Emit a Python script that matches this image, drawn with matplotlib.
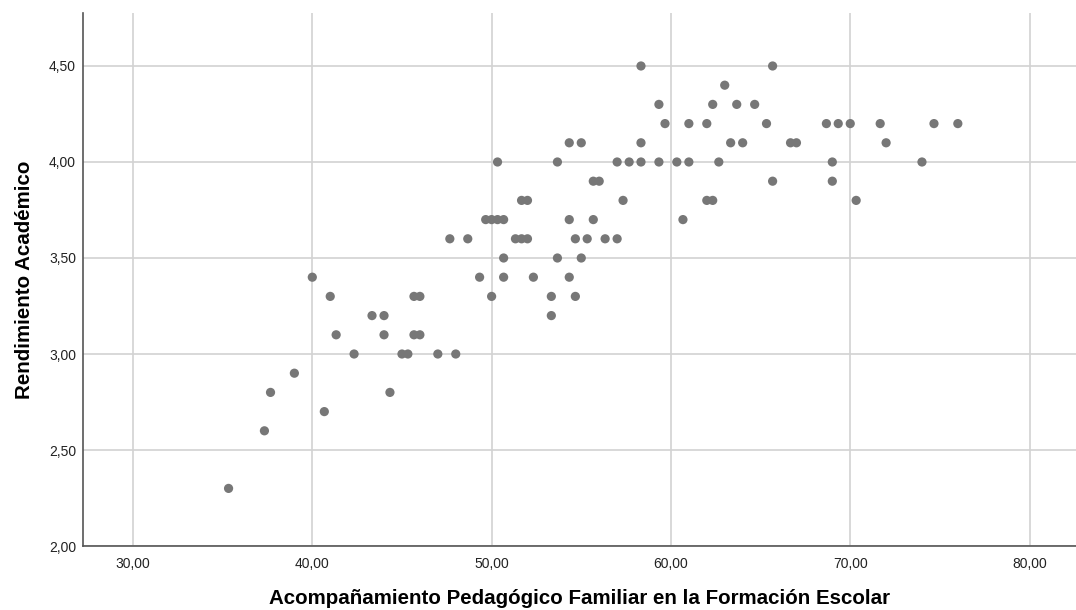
import matplotlib
matplotlib.use("Agg")
import matplotlib.pyplot as plt
from matplotlib.ticker import FuncFormatter

plt.rcParams['font.family'] = ['Liberation Sans', 'DejaVu Sans']

# datos (x = acompanamiento, y = rendimiento)
acomp = [35.33, 37.33, 40.67, 37.67, 44.33, 39.0,
         42.33, 45.0, 45.33, 47.0, 48.0,
         41.33, 44.0, 45.67, 46.0,
         43.33, 44.0, 53.33,
         41.0, 45.67, 46.0, 50.0, 53.33, 54.67,
         40.0, 49.33, 50.67, 52.33, 54.33,
         50.67, 53.67, 55.0,
         47.67, 48.67, 51.33, 51.67, 52.0, 54.67, 55.33, 56.33, 57.0,
         49.67, 50.0, 50.33, 50.67, 54.33, 55.67, 60.67,
         51.67, 52.0, 57.33, 62.0, 62.33, 70.33,
         55.67, 56.0, 65.67, 69.0,
         50.33, 53.67, 57.0, 57.67, 58.33, 59.33, 60.33, 61.0, 62.67, 69.0, 74.0,
         54.33, 55.0, 58.33, 63.33, 64.0, 66.67, 67.0, 72.0,
         59.67, 61.0, 62.0, 65.33, 68.67, 69.33, 70.0, 71.67, 74.67, 76.0,
         59.33, 62.33, 63.67, 64.67,
         63.0,
         58.33, 65.67]
rend = [2.3, 2.6, 2.7, 2.8, 2.8, 2.9,
        3.0, 3.0, 3.0, 3.0, 3.0,
        3.1, 3.1, 3.1, 3.1,
        3.2, 3.2, 3.2,
        3.3, 3.3, 3.3, 3.3, 3.3, 3.3,
        3.4, 3.4, 3.4, 3.4, 3.4,
        3.5, 3.5, 3.5,
        3.6, 3.6, 3.6, 3.6, 3.6, 3.6, 3.6, 3.6, 3.6,
        3.7, 3.7, 3.7, 3.7, 3.7, 3.7, 3.7,
        3.8, 3.8, 3.8, 3.8, 3.8, 3.8,
        3.9, 3.9, 3.9, 3.9,
        4.0, 4.0, 4.0, 4.0, 4.0, 4.0, 4.0, 4.0, 4.0, 4.0, 4.0,
        4.1, 4.1, 4.1, 4.1, 4.1, 4.1, 4.1, 4.1,
        4.2, 4.2, 4.2, 4.2, 4.2, 4.2, 4.2, 4.2, 4.2, 4.2,
        4.3, 4.3, 4.3, 4.3,
        4.4,
        4.5, 4.5]

xticks = [30, 40, 50, 60, 70, 80]
yticks = [2.0, 2.5, 3.0, 3.5, 4.0, 4.5]

fig = plt.figure(figsize=(10.76, 6.10), dpi=100)
ax = fig.add_axes([0.0771, 0.1049, 0.9229, 0.8738])

ax.scatter(acomp, rend, s=44, color='#777777', edgecolors='none', zorder=3)

ax.set_xlim(27.21, 82.59)
ax.set_ylim(2.0, 4.776)
ax.set_xticks(xticks)
ax.set_yticks(yticks)
coma = FuncFormatter(lambda v, p: f"{v:.2f}".replace('.', ','))
ax.xaxis.set_major_formatter(coma)
ax.yaxis.set_major_formatter(coma)
ax.tick_params(length=0, labelsize=10, colors='#222222')
ax.tick_params(axis='x', pad=8)
ax.tick_params(axis='y', pad=5)

ax.grid(True, color='#d2d2d2', lw=1.2, zorder=0)
for s in ['top', 'right']:
    ax.spines[s].set_visible(False)
for s in ['left', 'bottom']:
    ax.spines[s].set_color('#555555')
    ax.spines[s].set_linewidth(1.2)

ax.set_xlabel("Acompañamiento Pedagógico Familiar en la Formación Escolar",
              fontsize=14.8, fontweight='bold', labelpad=13)
ax.set_ylabel("Rendimiento Académico", fontsize=14.8, fontweight='bold', labelpad=11)

fig.savefig("out.png", dpi=100)
